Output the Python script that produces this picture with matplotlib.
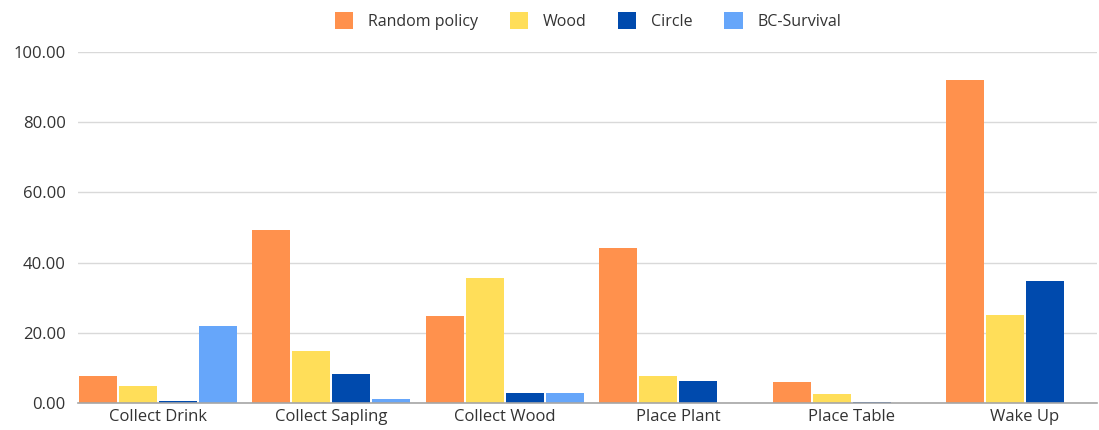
import matplotlib
matplotlib.use("Agg")
import matplotlib.pyplot as plt
from matplotlib.patches import Patch
import numpy as np

categories = ["Collect Drink", "Collect Sapling", "Collect Wood", "Place Plant", "Place Table", "Wake Up"]
series_names = ["Random policy", "Wood", "Circle", "BC-Survival"]
random_policy = [7.8, 49.3, 24.8, 44.2, 6.0, 92.0]
wood = [4.9, 14.8, 35.6, 7.8, 2.6, 25.0]
circle = [0.5, 8.3, 2.9, 6.4, 0.2, 34.8]
bc_survival = [21.8, 1.0, 2.9, 0.0, 0.0, 0.0]
colors = ["#FF914D", "#FFDE59", "#004AAD", "#66A6FA"]
yticks = [0, 20, 40, 60, 80, 100]

plt.rcParams['font.family'] = ['Open Sans', 'DejaVu Sans']

fig = plt.figure(figsize=(10.99, 4.30), dpi=100)
ax = fig.add_axes([78/1099, 27/430, (1097-78)/1099, (403-52)/430])

x = np.arange(len(categories))
step = 0.231
width = 0.219
data = [random_policy, wood, circle, bc_survival]
for i, (vals, c) in enumerate(zip(data, colors)):
    ax.bar(x + (i - 1.5) * step, vals, width=width, color=c, zorder=3, linewidth=0)

ax.set_xlim(-0.461, 5.415)
ax.set_ylim(0, 100)
ax.set_yticks(yticks)
ax.set_yticklabels([f"{v:.2f}" for v in yticks])
ax.set_xticks(x)
ax.set_xticklabels(categories)
ax.tick_params(axis='both', length=0, labelsize=12, colors="#333333")
ax.tick_params(axis='y', pad=9)
ax.tick_params(axis='x', pad=4)
ax.grid(axis='y', color="#D9D9D9", linewidth=1, zorder=0)
for s in ["top", "right", "left"]:
    ax.spines[s].set_visible(False)
ax.spines["bottom"].set_color("#A6A6A6")
ax.spines["bottom"].set_linewidth(1.2)
ax.spines["bottom"].set_zorder(4)

handles = [Patch(facecolor=c, edgecolor='none') for c in colors]
fig.legend(handles, series_names, loc="center", bbox_to_anchor=(588/1099, 1 - 21/430),
           ncol=4, frameon=False, fontsize=11.5, handlelength=1.15, handleheight=1.25,
           columnspacing=2.0, handletextpad=0.9, labelcolor="#333333")

fig.savefig("out.png", dpi=100)
